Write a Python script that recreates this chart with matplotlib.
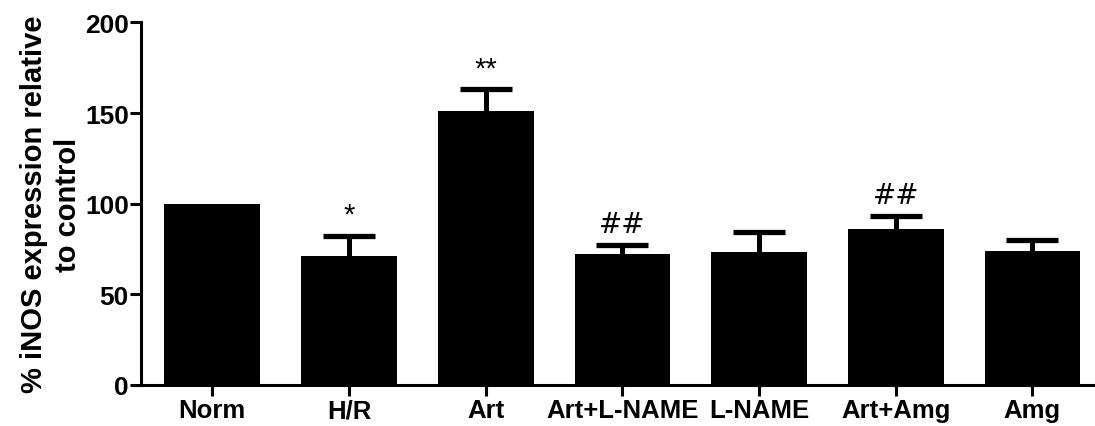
import matplotlib
matplotlib.use("Agg")
import matplotlib.pyplot as plt
import numpy as np

plt.rcParams['font.family'] = ['Liberation Sans', 'DejaVu Sans']

groups = ['Norm', 'H/R', 'Art', 'Art+L-NAME', 'L-NAME', 'Art+Amg', 'Amg']
means = [100, 71, 151, 72, 73.5, 86, 74]
sem = [0, 11, 12, 5, 11, 7, 6]
marks = ['', '*', '**', '##', '', '##', '']

fig = plt.figure(figsize=(10.95, 4.27), dpi=100)
ax = fig.add_axes([0.129, 0.097, 0.87, 0.848])

x = np.arange(len(groups))
means = np.array(means)
sem = np.array(sem)
top = means + sem

ax.bar(x, means, width=0.7, color='black', zorder=2)
# upper error bars only (stem + cap)
has_err = sem > 0
ax.vlines(x[has_err], means[has_err], top[has_err], color='black', lw=3.6, zorder=1)
ax.hlines(top[has_err], x[has_err] - 0.19, x[has_err] + 0.19, color='black', lw=3.8, zorder=1)

# significance marks
for i, m in enumerate(marks):
    if not m:
        continue
    if m.startswith('*'):
        ax.text(x[i], top[i] + 4, m, ha='center', va='bottom', fontsize=21)
    else:
        ax.text(x[i], top[i] + 4, m, ha='center', va='bottom', fontsize=20,
                family=['DejaVu Sans'])

ax.set_xlim(-0.52, 6.45)
ax.set_ylim(0, 200)
ax.set_yticks([0, 50, 100, 150, 200])
ax.set_xticks(x)
ax.set_xticklabels(groups, fontsize=18.5, fontweight='bold')
for lab in ax.get_yticklabels():
    lab.set_fontsize(19)
    lab.set_fontweight('bold')
ax.set_ylabel('% iNOS expression relative\nto control', fontsize=21,
              fontweight='bold', linespacing=1.3, labelpad=2)

for s in ['top', 'right']:
    ax.spines[s].set_visible(False)
for s in ['left', 'bottom']:
    ax.spines[s].set_linewidth(2.2)
ax.tick_params(width=2.2, length=8)
ax.tick_params(axis='x', pad=2)
ax.tick_params(axis='y', pad=1)

fig.savefig('out.png', dpi=100)
